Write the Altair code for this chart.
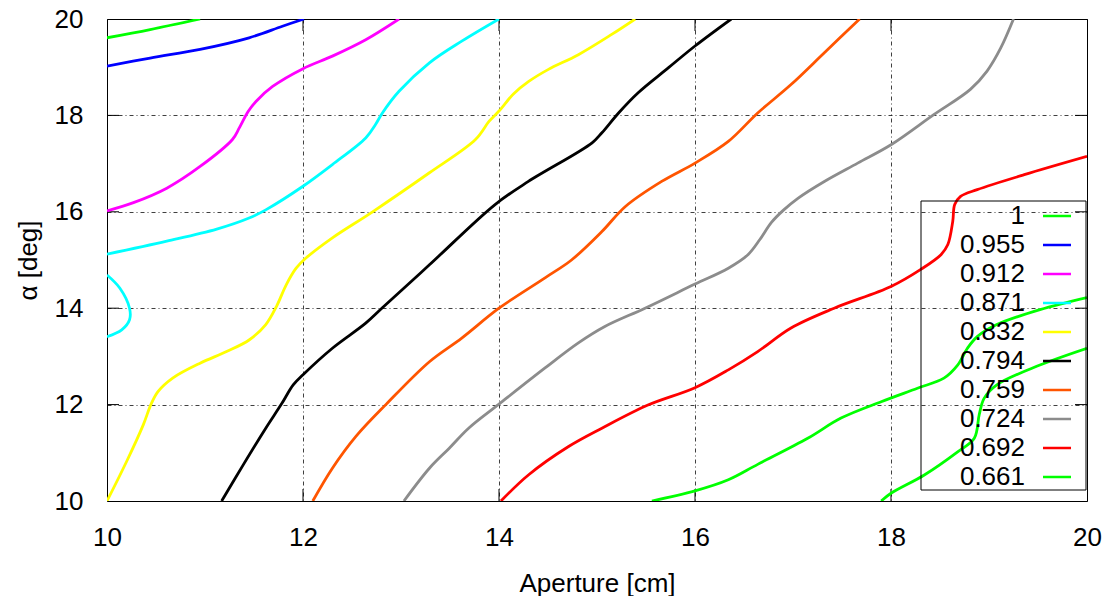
import altair as alt
import pandas as pd

# contour levels (legend order) and colours
levels = ["1", "0.955", "0.912", "0.871", "0.832", "0.794", "0.759", "0.724", "0.692", "0.661"]
colors = ["#00ff00", "#0000ff", "#ff00ff", "#00ffff", "#ffff00", "#000000",
          "#ff5500", "#8c8c8c", "#ff0000", "#00ff00"]

c1_x = [10.0, 10.44, 10.95]
c1_y = [19.61, 19.78, 20.0]

c0955_x = [10.0, 10.44, 10.95, 11.45, 11.79, 12.01]
c0955_y = [19.02, 19.19, 19.37, 19.61, 19.85, 20.0]

c0912_x = [10.0, 10.27, 10.61, 10.95, 11.28, 11.35, 11.44, 11.52, 11.69, 12.0, 12.30, 12.64, 12.98]
c0912_y = [16.02, 16.19, 16.49, 16.94, 17.50, 17.74, 18.08, 18.29, 18.60, 18.97, 19.23, 19.57, 20.0]

c0871a_x = [10.0, 10.61, 11.12, 11.45, 11.62, 12.0, 12.30, 12.64, 12.74, 12.81, 12.98, 13.29, 13.62, 14.0]
c0871a_y = [15.12, 15.39, 15.64, 15.87, 16.04, 16.53, 16.98, 17.53, 17.81, 18.05, 18.50, 19.09, 19.54, 20.0]

c0871b_x = [10.0, 10.13, 10.23, 10.23, 10.15, 10.0]
c0871b_y = [14.69, 14.42, 14.0, 13.76, 13.55, 13.41]

c0832_x = [10.0, 10.2, 10.37, 10.45, 10.52, 10.67, 10.95, 11.22, 11.45, 11.62, 11.73, 11.83, 11.93,
           12.03, 12.30, 12.71, 13.29, 13.76, 13.90, 14.0, 14.15, 14.30, 14.50, 14.81, 15.15, 15.39]
c0832_y = [10.0, 10.82, 11.58, 12.01, 12.27, 12.55, 12.86, 13.10, 13.34, 13.66, 14.04, 14.49, 14.83,
           15.04, 15.46, 16.0, 16.81, 17.50, 17.88, 18.09, 18.45, 18.70, 18.95, 19.26, 19.68, 20.0]

c0794_x = [11.17, 11.39, 11.62, 11.78, 11.90, 12.0, 12.30, 12.64, 12.81, 13.29, 13.96, 14.30,
           14.95, 15.05, 15.22, 15.42, 15.73, 16.0, 16.37]
c0794_y = [10.0, 10.75, 11.51, 12.01, 12.41, 12.62, 13.17, 13.69, 14.01, 14.90, 16.15, 16.63,
           17.43, 17.64, 18.05, 18.47, 18.99, 19.44, 20.0]

c0759_x = [12.10, 12.30, 12.54, 12.85, 13.29, 13.62, 14.0, 14.47, 14.74, 15.05, 15.29, 15.66, 16.0,
           16.34, 16.64, 16.98, 17.32, 17.68]
c0759_y = [10.0, 10.68, 11.34, 12.01, 12.89, 13.38, 14.0, 14.63, 15.0, 15.59, 16.11, 16.63, 17.01,
           17.46, 18.05, 18.64, 19.30, 20.0]

c0724_x = [13.03, 13.29, 13.49, 13.69, 14.0, 14.47, 14.81, 15.08, 15.49, 16.0, 16.34, 16.54, 16.66,
           16.78, 16.90, 17.05, 17.32, 17.66, 18.0, 18.44, 18.81, 18.98, 19.12, 19.25]
c0724_y = [10.0, 10.68, 11.09, 11.51, 12.01, 12.76, 13.28, 13.62, 14.0, 14.50, 14.83, 15.11, 15.42,
           15.78, 16.03, 16.28, 16.63, 17.01, 17.39, 18.02, 18.54, 18.92, 19.40, 20.0]

c0692_x = [14.02, 14.30, 14.71, 15.05, 15.52, 16.0, 16.34, 16.64, 16.98, 17.42, 18.0, 18.30, 18.51,
           18.58, 18.63, 18.65, 18.71, 18.88, 19.36, 20.0]
c0692_y = [10.0, 10.54, 11.13, 11.51, 11.99, 12.35, 12.72, 13.10, 13.59, 14.0, 14.45, 14.80, 15.11,
           15.32, 15.80, 16.15, 16.32, 16.46, 16.77, 17.15]

c0661a_x = [15.56, 16.0, 16.34, 16.64, 17.15, 17.49, 17.90, 18.27, 18.54, 18.68, 18.78, 18.88, 19.08, 19.52, 20.0]
c0661a_y = [10.0, 10.21, 10.44, 10.76, 11.30, 11.72, 12.06, 12.34, 12.55, 12.82, 13.17, 13.41, 13.66, 13.97, 14.22]

c0661b_x = [17.90, 18.0, 18.34, 18.68, 18.85, 18.90, 18.95, 19.08, 19.52, 20.0]
c0661b_y = [10.0, 10.16, 10.54, 11.02, 11.30, 11.79, 12.13, 12.41, 12.82, 13.17]

tick_values = [10, 12, 14, 16, 18, 20]
inner_ticks = [12, 14, 16, 18]

curves = [
    ("1", c1_x, c1_y), ("0.955", c0955_x, c0955_y), ("0.912", c0912_x, c0912_y),
    ("0.871", c0871a_x, c0871a_y), ("0.871", c0871b_x, c0871b_y),
    ("0.832", c0832_x, c0832_y), ("0.794", c0794_x, c0794_y), ("0.759", c0759_x, c0759_y),
    ("0.724", c0724_x, c0724_y), ("0.692", c0692_x, c0692_y),
    ("0.661", c0661a_x, c0661a_y), ("0.661", c0661b_x, c0661b_y),
]
rows = []
for seg, (lvl, xs, ys) in enumerate(curves):
    for i, (xv, yv) in enumerate(zip(xs, ys)):
        rows.append({"seg": seg, "level": lvl, "x": xv, "y": yv, "i": i})
df = pd.DataFrame(rows)
tick_df = pd.DataFrame({"v": inner_ticks})
legend_df = pd.DataFrame({"level": levels, "idx": list(range(len(levels)))})

FONT = "Liberation Sans"
W, H = 980, 482

xscale = alt.Scale(domain=[10, 20], nice=False, zero=False)
yscale = alt.Scale(domain=[10, 20], nice=False, zero=False)
cscale = alt.Scale(domain=levels, range=colors)

axis_common = dict(values=tick_values, format="d", labelFont=FONT, labelFontSize=26,
                   labelColor="black", ticks=False, domain=False, grid=True,
                   gridColor="black", gridOpacity=0.75, gridWidth=1, gridDash=[4, 3, 1, 3],
                   titleFont=FONT, titleFontSize=26, titleFontWeight="normal", titleColor="black",
                   labelFlush=False)
xaxis = alt.Axis(title="Aperture [cm]", labelPadding=23, titlePadding=20, **axis_common)
yaxis = alt.Axis(title="α [deg]", labelPadding=24, titlePadding=13, **axis_common)

lines = alt.Chart(df).mark_line(strokeWidth=2.8, interpolate="catmull-rom", clip=True).encode(
    x=alt.X("x:Q", scale=xscale, axis=xaxis),
    y=alt.Y("y:Q", scale=yscale, axis=yaxis),
    color=alt.Color("level:N", scale=cscale, legend=None),
    detail="seg:N",
    order="i:Q",
)

tick_base = alt.Chart(tick_df).mark_rule(color="black", strokeWidth=1)
left_t = tick_base.encode(y=alt.Y("v:Q", scale=yscale, axis=yaxis), x=alt.value(0), x2=alt.value(12))
right_t = tick_base.encode(y=alt.Y("v:Q", scale=yscale, axis=yaxis), x=alt.value(W - 12), x2=alt.value(W))
bot_t = tick_base.encode(x=alt.X("v:Q", scale=xscale, axis=xaxis), y=alt.value(H - 12), y2=alt.value(H))
top_t = tick_base.encode(x=alt.X("v:Q", scale=xscale, axis=xaxis), y=alt.value(0), y2=alt.value(12))

# key (legend) box: labels right-aligned, line samples to their right
key_base = alt.Chart(legend_df).transform_calculate(py="197 + 29 * datum.idx")
key_text = key_base.mark_text(align="right", baseline="middle", font=FONT, fontSize=26,
                              color="black").encode(
    text="level:N", x=alt.value(918), y=alt.Y("py:Q", scale=None, axis=None))
key_line = key_base.mark_rule(strokeWidth=2.5).encode(
    x=alt.value(936), x2=alt.value(964), y=alt.Y("py:Q", scale=None, axis=None),
    color=alt.Color("level:N", scale=cscale, legend=None))
frame = alt.Chart(pd.DataFrame({"a": [0]})).mark_rect(
    fillOpacity=0, stroke="black", strokeWidth=1).encode(
    x=alt.value(814), x2=alt.value(W - 1), y=alt.value(182), y2=alt.value(471))

chart = alt.layer(left_t, right_t, bot_t, top_t, lines, key_text, key_line, frame).properties(
    width=W, height=H,
    autosize=alt.AutoSizeParams(type="none"),
    padding={"left": 99, "top": 11, "right": 15, "bottom": 95},
    background="white",
).configure_view(stroke="black", strokeWidth=1)

chart.save("out.html", embed_options={"renderer": "svg", "actions": False})
